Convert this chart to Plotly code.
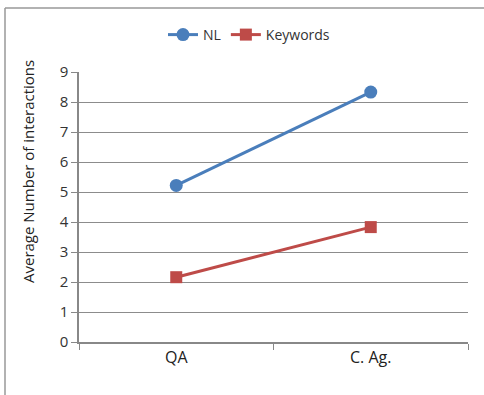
import plotly.graph_objects as go

categories = ["QA", "C. Ag."]
nl_values = [5.22, 8.33]
keywords_values = [2.16, 3.83]
y_ticks = [0, 1, 2, 3, 4, 5, 6, 7, 8, 9]
y_title = "Average Number of interactions"

W, H = 484, 395
L, R, T, B = 79, 16, 72, 53
pw = W - L - R
ph = H - T - B

fig = go.Figure()
fig.add_trace(go.Scatter(
    x=categories, y=nl_values, name="NL", mode="lines+markers",
    line=dict(color="#4A7EBB", width=3),
    marker=dict(symbol="circle", size=13, color="#4A7EBB"),
))
fig.add_trace(go.Scatter(
    x=categories, y=keywords_values, name="Keywords", mode="lines+markers",
    line=dict(color="#BE4B48", width=3),
    marker=dict(symbol="square", size=12, color="#BE4B48"),
))

font_family = "Open Sans, Liberation Sans, sans-serif"

fig.update_layout(
    width=W, height=H,
    margin=dict(l=L, r=R, t=T, b=B, autoexpand=False),
    paper_bgcolor="white", plot_bgcolor="white",
    font=dict(family=font_family, color="#333333"),
    showlegend=True,
    legend=dict(orientation="h", x=(249 - L) / pw, xanchor="center", y=1.0 + (T - 35) / ph, yanchor="middle",
                font=dict(size=14, color="#333333"), itemwidth=30, tracegroupgap=0),
    xaxis=dict(
        type="category", range=[-0.5, 1.5], showgrid=False,
        showline=True, linecolor="#888888", linewidth=1.5,
        ticks="outside", tickson="boundaries", ticklen=6, tickcolor="#888888",
        tickfont=dict(size=16, color="#222222"), zeroline=False,
    ),
    yaxis=dict(
        range=[0, 9], tickvals=y_ticks, showgrid=True, gridcolor="#8C8C8C", gridwidth=1,
        showline=True, linecolor="#888888", linewidth=1.5,
        ticks="outside", ticklen=6, tickcolor="#888888",
        tickfont=dict(size=15, color="#333333"), zeroline=False,
    ),
    annotations=[
        dict(text=y_title, textangle=-90, xref="paper", yref="paper",
             x=(28 - L) / pw, y=(H - B - 172) / ph, xanchor="center", yanchor="middle",
             showarrow=False, font=dict(size=15, color="#222222")),
    ],
    shapes=[
        dict(type="line", xref="paper", yref="paper",
             x0=(5 - L) / pw, x1=(W - L + 5) / pw, y0=(H - B - 8) / ph, y1=(H - B - 8) / ph,
             line=dict(color="#999999", width=1.5)),
        dict(type="line", xref="paper", yref="paper",
             x0=(5 - L) / pw, x1=(5 - L) / pw, y0=(H - B - 8) / ph, y1=-(B + 5) / ph,
             line=dict(color="#999999", width=1.5)),
    ],
)

fig.write_html("out.html", config={"displayModeBar": False},
               post_script="document.body.style.margin='0';document.body.style.padding='0';")
